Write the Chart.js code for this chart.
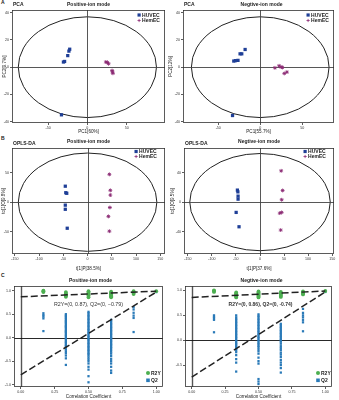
<!DOCTYPE html>
<html><head><meta charset="utf-8">
<script src="https://cdn.jsdelivr.net/npm/chart.js@4.4.0/dist/chart.umd.min.js"></script>
<style>
html,body{margin:0;padding:0;background:#fff;}
#fig{position:relative;width:339px;height:400px;overflow:hidden;}
#fig canvas{position:absolute;}
.tag{position:absolute;font:bold 5px "Liberation Sans",Arial,sans-serif;color:#222;line-height:5px;}
</style></head><body>
<div id="fig">
<div class="tag" style="left:1px;top:0px">A</div>
<div class="tag" style="left:1px;top:136px">B</div>
<div class="tag" style="left:1px;top:273px">C</div>
<canvas id="a1" width="170" height="137" style="left:0px;top:0px"></canvas>
<canvas id="a2" width="171" height="137" style="left:168px;top:0px"></canvas>
<canvas id="b1" width="170" height="137" style="left:0px;top:137px"></canvas>
<canvas id="b2" width="171" height="137" style="left:168px;top:137px"></canvas>
<canvas id="c1" width="170" height="126" style="left:0px;top:274px"></canvas>
<canvas id="c2" width="171" height="126" style="left:168px;top:274px"></canvas>
</div>
<script>
// ---------------- DATA ----------------
const groups = ['HUVEC', 'HemEC'];
// A: PCA, positive-ion mode
const pcaPosHuvecX = [-22.5, -23.5, -25, -29, -30.5, -33];
const pcaPosHuvecY = [13.2, 11.8, 8.5, 4.2, 3.8, -35];
const pcaPosHemecX = [23.5, 25.5, 27, 31.5, 32, 32.5];
const pcaPosHemecY = [3.8, 3.5, 2.5, -2.5, -3.5, -4.5];
// A: PCA, negative-ion mode
const pcaNegHuvecX = [-18, -22, -24, -26.5, -29.5, -31.5, -33];
const pcaNegHuvecY = [13, 9.8, 9.8, 5, 4.8, 4.5, -35.5];
const pcaNegHemecX = [17.5, 22.5, 25, 26.5, 28.7, 31.8];
const pcaNegHemecY = [-0.5, 1, 0, -0.2, -4.6, -3.6];
// B: OPLS-DA, positive-ion mode
const oplsPosHuvecX = [-46, -45, -43, -46, -46, -42];
const oplsPosHuvecY = [27, 16, 15, -5, -12, -44];
const oplsPosHemecX = [45, 47, 47, 46, 43, 45];
const oplsPosHemecY = [47, 20, 12, -9, -24, -49];
// B: OPLS-DA, negative-ion mode
const oplsNegHuvecX = [-47, -46, -45.6, -45.6, -49.6, -43.6];
const oplsNegHuvecY = [16.3, 13.9, 8.1, 4, -14, -33.5];
const oplsNegHemecX = [44, 47, 45, 45, 41, 43];
const oplsNegHemecY = [42.5, 15.8, 3.2, -14, -15, -38];
// confidence ellipse semi-axes [x, y]
const ellipsePcaPos = [88, 37];
const ellipsePcaNeg = [82, 37];
const ellipseOplsPos = [143, 83];
const ellipseOplsNeg = [146, 66];
// C: permutation tests
const permX = [0.167, 0.333, 0.5, 0.667, 0.833, 1.0];
const r2yPos = [[1.0, 0.99, 0.97], [0.97, 0.95, 0.93, 0.91, 0.89, 0.87], [0.99, 0.97, 0.95, 0.93, 0.91, 0.89, 0.86], [0.98, 0.96, 0.94, 0.92, 0.9, 0.88, 0.86], [0.99, 0.97, 0.95, 0.93], [0.99]];
const q2Pos = [
  [0.52, 0.48, 0.45, 0.41, 0.14],
  [0.5, 0.47, 0.45, 0.42, 0.39, 0.36, 0.34, 0.31, 0.28, 0.25, 0.23, 0.2, 0.17, 0.14, 0.12, 0.09, 0.06, 0.03, 0.0, -0.03, -0.06, -0.09, -0.12, -0.15, -0.18, -0.21, -0.25, -0.29, -0.33, -0.38, -0.44, -0.58],
  [0.55, 0.52, 0.49, 0.46, 0.43, 0.4, 0.37, 0.34, 0.31, 0.28, 0.25, 0.22, 0.19, 0.16, 0.13, 0.1, 0.07, 0.04, 0.01, -0.02, -0.05, -0.08, -0.11, -0.14, -0.17, -0.2, -0.23, -0.26, -0.29, -0.32, -0.35, -0.38, -0.42, -0.46, -0.5, -0.55, -0.62, -0.68, -0.82, -0.95],
  [0.38, 0.35, 0.32, 0.29, 0.26, 0.23, 0.2, 0.17, 0.14, 0.11, 0.08, 0.05, 0.02, -0.01, -0.04, -0.07, -0.1, -0.13, -0.16, -0.19, -0.22, -0.26, -0.3, -0.34, -0.39, -0.45, -0.5, -0.55, -0.62, -0.7, -0.75],
  [0.65, 0.6, 0.53, 0.47, 0.42, 0.12],
  [0.97]
];
const r2yNeg = [[1.0, 0.99, 0.97], [0.96, 0.94, 0.92, 0.9, 0.88, 0.86], [0.98, 0.96, 0.94, 0.92, 0.9, 0.88, 0.86], [0.97, 0.95, 0.93, 0.91, 0.89, 0.87], [0.98, 0.96, 0.94, 0.92], [0.99]];
const q2Neg = [
  [0.5, 0.47, 0.44, 0.41, 0.16],
  [0.5, 0.46, 0.43, 0.4, 0.37, 0.34, 0.31, 0.28, 0.25, 0.22, 0.19, 0.16, 0.13, 0.1, 0.07, 0.04, 0.01, -0.02, -0.05, -0.08, -0.11, -0.14, -0.17, -0.2, -0.24, -0.3, -0.38, -0.45, -0.63],
  [0.52, 0.49, 0.46, 0.43, 0.4, 0.37, 0.34, 0.31, 0.28, 0.25, 0.22, 0.19, 0.16, 0.13, 0.1, 0.07, 0.04, 0.01, -0.02, -0.05, -0.08, -0.11, -0.14, -0.18, -0.22, -0.27, -0.35, -0.42, -0.47, -0.78, -0.83, -0.88],
  [0.33, 0.3, 0.27, 0.24, 0.21, 0.18, 0.15, 0.12, 0.09, 0.06, 0.03, 0.0, -0.03, -0.07, -0.12, -0.16, -0.2, -0.25, -0.29, -0.34, -0.4, -0.45, -0.5, -0.56, -0.65],
  [0.63, 0.55, 0.5, 0.46, 0.41, 0.36, 0.18],
  [0.97]
];
const regPosR2Y = [0.87, 0.99]; // intercept at 0, value at 1
const regPosQ2 = [-0.79, 0.97];
const regNegR2Y = [0.86, 0.99];
const regNegQ2 = [-0.74, 0.97];
// tick labels
const ticksPcaX = [-50, 0, 50];
const ticksPcaY = [-40, -20, 0, 20, 40];
const ticksOplsX = [-150, -100, -50, 0, 50, 100, 150];
const ticksOplsPosY = [-50, 0, 50];
const ticksOplsNegY = [-40, 0, 40];
const ticksPermX = [0, 0.25, 0.5, 0.75, 1];
const ticksPermPosY = [-1, -0.5, 0, 0.5, 1];
const ticksPermNegY = [-0.5, 0, 0.5, 1];

// ---------------- STYLE / HELPERS ----------------
const FF = '"Liberation Sans", Arial, sans-serif';
const C_HUVEC = '#1f3f97', C_HEMEC = '#8b2a74', C_R2Y = '#4caf50', C_Q2 = '#2a7ab8';
const zip = (xs, ys) => xs.map((x, i) => ({x, y: ys[i]}));
const cols = (xs, colsArr) => colsArr.flatMap((c, i) => c.map(v => ({x: xs[i], y: v})));

const deco = {
  id: 'deco',
  beforeDatasetsDraw(chart, args, o) {
    const {ctx, chartArea: a, scales: {x, y}} = chart;
    ctx.save();
    ctx.beginPath(); ctx.rect(a.left, a.top, a.right - a.left, a.bottom - a.top); ctx.clip();
    const cx = x.getPixelForValue(0), cy = y.getPixelForValue(0);
    if (o.ellipse) {
      const rx = Math.abs(x.getPixelForValue(o.ellipse[0]) - cx);
      const ry = Math.abs(y.getPixelForValue(o.ellipse[1]) - cy);
      ctx.beginPath(); ctx.ellipse(cx, cy, rx, ry, 0, 0, Math.PI * 2);
      ctx.strokeStyle = '#222'; ctx.lineWidth = 1; ctx.stroke();
    }
    ctx.lineWidth = o.vWidth || 0.9; ctx.strokeStyle = o.vColor || '#444';
    ctx.beginPath(); ctx.moveTo(Math.round(cx) + 0.5, a.top); ctx.lineTo(Math.round(cx) + 0.5, a.bottom); ctx.stroke();
    ctx.lineWidth = o.hWidth || 0.9; ctx.strokeStyle = o.hColor || '#444';
    ctx.beginPath(); ctx.moveTo(a.left, Math.round(cy) + 0.5); ctx.lineTo(a.right, Math.round(cy) + 0.5); ctx.stroke();
    ctx.restore();
  },
  afterDraw(chart, args, o) {
    const {ctx, chartArea: a} = chart;
    ctx.save();
    ctx.strokeStyle = '#333'; ctx.lineWidth = 0.8;
    ctx.strokeRect(a.left + 0.5, a.top + 0.5, a.right - a.left - 1, a.bottom - a.top - 1);
    ctx.fillStyle = '#222'; ctx.textBaseline = 'middle';
    if (o.label) { ctx.font = 'bold 5px ' + FF; ctx.textAlign = 'left'; ctx.fillText(o.label, a.left + 1, a.top - o.labelDy); }
    if (o.title) { ctx.font = 'bold 5px ' + FF; ctx.textAlign = 'center'; ctx.fillText(o.title, (a.left + a.right) / 2 + (o.titleDx || 0), a.top - o.titleDy); }
    if (o.note) { ctx.font = o.noteFont + ' ' + FF; ctx.textAlign = 'center'; ctx.fillStyle = '#333'; ctx.fillText(o.note, (a.left + a.right) / 2 + o.noteDx, a.top + o.noteDy); }
    if (o.legend) {
      o.legend.forEach((it, i) => {
        const mx = a.right - o.legendDx, my = a.top + o.legendDy + i * o.legendGap;
        ctx.fillStyle = it.color; ctx.strokeStyle = it.color;
        if (it.shape === 'rect') ctx.fillRect(mx - it.s / 2, my - it.s / 2, it.s, it.s);
        else if (it.shape === 'circle') { ctx.beginPath(); ctx.arc(mx, my, it.s / 2, 0, Math.PI * 2); ctx.fill(); }
        else { ctx.lineWidth = 0.8; ctx.beginPath(); ctx.moveTo(mx - 1.6, my); ctx.lineTo(mx + 1.6, my); ctx.moveTo(mx, my - 1.6); ctx.lineTo(mx, my + 1.6); ctx.stroke(); }
        ctx.fillStyle = '#222'; ctx.font = 'bold 5px ' + FF; ctx.textAlign = 'left';
        ctx.fillText(it.text, mx + 3, my + 0.3);
      });
    }
    ctx.restore();
  }
};

function axis(min, max, ticks, size, title, fmt, titlePad) {
  return {
    type: 'linear', min, max,
    afterBuildTicks: s => { s.ticks = ticks.map(v => ({value: v})); },
    afterFit: s => { if (s.isHorizontal()) s.height = size; else s.width = size; },
    grid: {display: true, drawOnChartArea: false, drawTicks: true, tickLength: 2, color: '#333', lineWidth: 0.8},
    border: {display: false},
    ticks: {font: {size: 3.6, family: FF}, color: '#333', padding: 1, maxRotation: 0, autoSkip: false,
            callback: v => fmt ? fmt(v) : String(v)},
    title: title ? {display: true, text: title, color: '#222', font: {size: 4.6, family: FF}, padding: titlePad} : {display: false}
  };
}

function make(id, cfg) {
  new Chart(document.getElementById(id), {
    type: 'scatter',
    data: {datasets: cfg.datasets},
    options: {
      responsive: false, animation: false, devicePixelRatio: 1,
      layout: {padding: cfg.padding},
      plugins: {legend: {display: false}, tooltip: {enabled: false}, title: {display: false}, deco: cfg.deco},
      scales: {x: cfg.x, y: cfg.y}
    },
    plugins: [deco]
  });
}

function groupSets(hx, hy, ex, ey) {
  return [
    {label: groups[0], data: zip(hx, hy), pointStyle: 'rect', pointRadius: 2.3, backgroundColor: C_HUVEC, borderColor: C_HUVEC, borderWidth: 0},
    {label: groups[1], data: zip(ex, ey), pointStyle: 'star', pointRadius: 1.9, backgroundColor: C_HEMEC, borderColor: C_HEMEC, borderWidth: 0.9}
  ];
}
const grpLegend = [{text: 'HUVEC', color: C_HUVEC, shape: 'rect', s: 3.2}, {text: 'HemEC', color: C_HEMEC, shape: 'plus'}];

// A
make('a1', {
  datasets: groupSets(pcaPosHuvecX, pcaPosHuvecY, pcaPosHemecX, pcaPosHemecY),
  padding: {top: 10, right: 4, left: 0, bottom: 0},
  x: axis(-96, 99, ticksPcaX, 14, 'PC1[60%]', null, {top: 0, bottom: 3}),
  y: axis(-41, 42, ticksPcaY, 12, 'PC2[9.7%]', null, {top: 2, bottom: 0}),
  deco: {ellipse: ellipsePcaPos, label: 'PCA', labelDy: 5, title: 'Positive-ion mode', titleDy: 5, legend: grpLegend, legendDx: 26, legendDy: 5, legendGap: 5.5}
});
make('a2', {
  datasets: groupSets(pcaNegHuvecX, pcaNegHuvecY, pcaNegHemecX, pcaNegHemecY),
  padding: {top: 10, right: 2, left: 0, bottom: 0},
  x: axis(-92, 88, ticksPcaX, 14, 'PC1[55.7%]', null, {top: 0, bottom: 3}),
  y: axis(-41, 42, ticksPcaY, 15, 'PC2[12%]', null, {top: 0, bottom: 0}),
  deco: {ellipse: ellipsePcaNeg, label: 'PCA', labelDy: 5, title: 'Negtive-ion mode', titleDx: 3, titleDy: 5, legend: grpLegend, legendDx: 26, legendDy: 5, legendGap: 5.5}
});
// B
make('b1', {
  datasets: groupSets(oplsPosHuvecX, oplsPosHuvecY, oplsPosHemecX, oplsPosHemecY),
  padding: {top: 11, right: 4, left: 0, bottom: 0},
  x: axis(-156, 160, ticksOplsX, 20, 't[1]P[38.5%]', null, {top: 0, bottom: 3}),
  y: axis(-87.5, 91.5, ticksOplsPosY, 12, 'to[1]O[9.8%]', null, {top: 1, bottom: 0}),
  deco: {ellipse: ellipseOplsPos, label: 'OPLS-DA', labelDy: 4.5, title: 'Positive-ion mode', titleDy: 6, legend: grpLegend, legendDx: 29, legendDy: 3.5, legendGap: 5}
});
make('b2', {
  datasets: groupSets(oplsNegHuvecX, oplsNegHuvecY, oplsNegHemecX, oplsNegHemecY),
  padding: {top: 11, right: 2, left: 0, bottom: 0},
  x: axis(-158, 154, ticksOplsX, 20, 't[1]P[37.6%]', null, {top: 0, bottom: 3}),
  y: axis(-70.5, 73.5, ticksOplsNegY, 16, 'to[1]O[9.5%]', null, {top: 2, bottom: 0}),
  deco: {ellipse: ellipseOplsNeg, label: 'OPLS-DA', labelDy: 4.5, title: 'Negtive-ion mode', titleDy: 6, legend: grpLegend, legendDx: 29, legendDy: 3.5, legendGap: 5}
});
// C
function permSets(r2y, q2, regR, regQ) {
  return [
    {label: 'R2Y reg', type: 'line', data: [{x: 0, y: regR[0]}, {x: 1, y: regR[1]}], borderColor: '#222', borderWidth: 1.5, borderDash: [7, 3], pointRadius: 0, order: 0},
    {label: 'Q2 reg', type: 'line', data: [{x: 0, y: regQ[0]}, {x: 1, y: regQ[1]}], borderColor: '#222', borderWidth: 1.5, borderDash: [7, 3], pointRadius: 0, order: 0},
    {label: 'R2Y', data: cols(permX, r2y), pointStyle: 'circle', pointRadius: 1.9, backgroundColor: C_R2Y, borderWidth: 0, order: 1},
    {label: 'Q2', data: cols(permX, q2), pointStyle: 'rect', pointRadius: 1.6, backgroundColor: C_Q2, borderWidth: 0, order: 2}
  ];
}
const permLegend = [{text: 'R2Y', color: C_R2Y, shape: 'circle', s: 4}, {text: 'Q2', color: C_Q2, shape: 'rect', s: 3.6}];
const fmt2 = v => v.toFixed(2), fmt1 = v => v.toFixed(1);
make('c1', {
  datasets: permSets(r2yPos, q2Pos, regPosR2Y, regPosQ2),
  padding: {top: 12, right: 7, left: 0, bottom: 0},
  x: axis(-0.05, 1.05, ticksPermX, 13, 'Correlation Coefficient', fmt2, {top: 0, bottom: 0.5}),
  y: axis(-1.05, 1.1, ticksPermPosY, 14, null, fmt1),
  deco: {vColor: '#555', vWidth: 1.4, hColor: '#111', hWidth: 0.9, title: 'Positive-ion mode', titleDx: 2, titleDy: 5,
         note: 'R2Y=(0, 0.87), Q2=(0, \u22120.79)', noteFont: '5.3px', noteDx: 0, noteDy: 19,
         legend: permLegend, legendDx: 15, legendDy: 87, legendGap: 7.3}
});
make('c2', {
  datasets: permSets(r2yNeg, q2Neg, regNegR2Y, regNegQ2),
  padding: {top: 12, right: 7, left: 0, bottom: 0},
  x: axis(-0.05, 1.05, ticksPermX, 13, 'Correlation Coefficient', fmt2, {top: 0, bottom: 0.5}),
  y: axis(-0.94, 1.09, ticksPermNegY, 17, null, fmt1),
  deco: {vColor: '#555', vWidth: 1.4, hColor: '#111', hWidth: 0.9, title: 'Negtive-ion mode', titleDx: 3, titleDy: 5,
         note: 'R2Y=(0, 0.86), Q2=(0, -0.74)', noteFont: 'bold 5px', noteDx: 2, noteDy: 19,
         legend: permLegend, legendDx: 14, legendDy: 87, legendGap: 7.3}
});
</script>
</body></html>
